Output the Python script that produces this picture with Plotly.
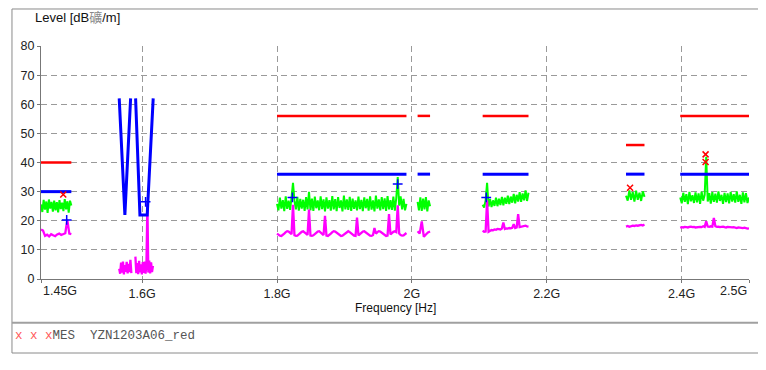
import numpy as np
import plotly.graph_objects as go

# ---------------- data ----------------
x_tick_vals = [1.45, 1.6, 1.8, 2.0, 2.2, 2.4, 2.5]
x_tick_text = ["1.45G", "1.6G", "1.8G", "2G", "2.2G", "2.4G", "2.5G"]
y_tick_vals = [0, 10, 20, 30, 40, 50, 60, 70, 80]

# peak limit (red), frequencies in GHz, level dBuV/m
peak_limit_f = [1.45, 1.495, None, 1.80, 1.992, None, 2.0085, 2.027, None,
                2.105, 2.173, None, 2.3176, 2.345, None, 2.398, 2.50]
peak_limit_v = [40, 40, None, 56, 56, None, 56, 56, None,
                56, 56, None, 46, 46, None, 56, 56]

# average limit (blue)
avg_limit_f = [1.45, 1.495, None,
               1.566, 1.5744, 1.5829, None, 1.5903, 1.5967, 1.6075, 1.6164, None,
               1.80, 1.992, None, 2.0085, 2.027, None, 2.105, 2.173, None,
               2.3176, 2.345, None, 2.398, 2.50]
avg_limit_v = [30, 30, None,
               62, 22, 62, None, 62, 22, 22, 62, None,
               36, 36, None, 36, 36, None, 36, 36, None,
               36, 36, None, 36, 36]

# sweep segments (start GHz, stop GHz)
seg_a = (1.45, 1.495)
seg_b1 = (1.566, 1.584)
seg_b2 = (1.590, 1.616)
seg_c = (1.80, 1.992)
seg_d = (2.0085, 2.027)
seg_e = (2.105, 2.173)
seg_f = (2.3176, 2.345)
seg_g = (2.398, 2.50)

# peak trace (green)
peak_a = [25.6, 23.0, 27.2, 23.8, 26.6, 22.7, 27.3, 24.2, 26.5, 23.1,
          26.9, 23.6, 26.4, 22.9, 27.1, 24.0, 26.2, 23.3, 27.4, 23.9,
          26.7, 22.8, 26.9, 25.2]
peak_c = [25.8, 23.6, 27.9, 24.2, 27.1, 23.3, 28.4, 24.1, 26.9, 23.7,
          28.0, 33.0, 26.8, 23.9, 28.2, 23.5, 27.5, 24.2, 27.2, 23.4,
          28.1, 23.9, 29.9, 23.6, 27.6, 23.4, 28.3, 24.3, 27.0, 23.6,
          28.4, 24.0, 27.3, 23.2, 28.0, 24.2, 27.1, 23.5, 28.5, 23.9,
          27.4, 23.3, 28.1, 24.4, 27.0, 23.2, 28.6, 23.9, 27.3, 23.7,
          28.2, 23.4, 27.6, 24.1, 27.0, 23.6, 28.3, 24.0, 27.2, 23.3,
          28.0, 24.3, 27.5, 23.5, 28.4, 23.8, 27.0, 23.2, 28.6, 24.2,
          27.3, 23.6, 28.1, 24.0, 27.7, 23.4, 28.5, 23.9, 27.1, 23.7,
          28.3, 23.5, 27.8, 35.0, 25.2, 28.4, 23.9, 27.5, 23.6, 25.8]
peak_d = [26.5, 23.6, 28.0, 23.4, 27.6, 23.9, 28.1, 23.2, 27.0, 25.0]
peak_e = [25.5, 24.5, 27.0, 33.0, 24.9, 27.5, 24.7, 27.0, 25.1, 27.9,
          25.0, 27.6, 25.4, 28.2, 25.3, 27.9, 25.8, 28.6, 25.7, 28.3,
          26.2, 29.2, 26.0, 28.9, 26.6, 29.8, 26.5, 29.4, 27.0, 30.4,
          26.8, 29.6]
peak_f = [28.6, 26.9, 30.4, 27.2, 29.9, 26.6, 30.3, 27.2, 29.6, 26.8,
          30.1, 28.2]
peak_g = [28.0, 26.0, 29.6, 26.5, 29.1, 25.7, 29.9, 26.7, 28.8, 26.1,
          29.7, 26.3, 29.4, 25.8, 30.0, 26.9, 28.9, 42.0, 26.6, 29.5,
          25.9, 29.8, 26.5, 29.3, 26.2, 30.1, 26.8, 28.9, 25.8, 29.6,
          26.4, 29.4, 26.0, 29.9, 26.6, 29.1, 26.2, 30.1, 26.5, 28.9,
          25.8, 29.7, 26.3, 29.5, 26.1, 28.0]

# average trace (magenta)
avg_a = [17.0, 16.6, 14.8, 15.2, 14.6, 15.4, 15.0, 14.7, 15.3, 15.6,
         15.1, 15.5, 15.7, 20.3, 15.6, 15.4]
avg_b1 = [3.5, 1.8, 5.6, 2.2, 6.0, 1.6, 4.8, 2.5, 5.9, 1.9, 5.2, 2.4, 6.6, 2.0]
avg_b2 = [7.7, 2.0, 5.5, 1.7, 6.2, 2.3, 5.0, 1.6, 5.8, 2.1,
          6.0, 1.8, 5.4, 26.0, 2.2, 6.3, 1.9, 5.7, 2.4, 4.5]
avg_c = [15.6, 15.2, 14.9, 14.8, 15.1, 15.6, 16.1, 16.4, 16.3, 15.9, 15.4,
         25.5,
         15.0, 14.8, 14.9, 15.3, 15.8, 16.2, 16.4, 16.1, 15.6, 15.1,
         23.8,
         14.9, 14.8, 15.0, 15.5, 16.0, 16.3, 16.4, 16.0, 15.5, 15.1,
         21.7,
         14.9, 14.8, 15.1, 15.6, 16.1, 16.4, 16.3, 15.9, 15.4, 15.0,
         14.8, 14.9, 15.3, 15.8, 16.2, 16.4, 16.1, 15.6, 15.1, 14.9, 14.8,
         21.1,
         15.0, 15.5, 16.0, 16.3, 16.4, 16.0, 15.5, 15.1, 14.9, 14.8, 15.1,
         17.5,
         15.6, 16.1, 16.4, 16.3, 15.9, 15.4, 15.0, 14.8, 14.9,
         22.3,
         15.3, 15.8, 16.2, 16.4, 16.1,
         25.3,
         15.6, 15.1, 14.9, 15.0, 15.4, 15.8]
avg_d = [16.4, 15.6, 19.8, 14.5, 15.3, 16.0, 16.3]
avg_e = [16.6, 16.2, 16.3, 27.0, 16.2, 16.5, 16.8, 16.7, 17.0, 16.9,
         17.2, 17.1, 17.0, 17.3, 19.4, 17.2, 17.4, 17.3, 17.5, 17.4,
         17.6, 18.8, 17.5, 17.7, 22.3, 17.8, 17.9, 18.0, 18.2, 18.3,
         18.1, 18.0]
avg_f = [18.0, 18.2, 17.9, 18.1, 18.3, 18.2, 18.4, 18.3, 18.5, 18.6, 18.4, 18.7]
avg_g = [17.6, 17.8, 17.7, 17.9, 17.8, 17.7, 17.9, 18.0, 17.8, 17.9,
         17.7, 17.8, 18.0, 17.9, 17.8, 18.1, 17.9, 19.8, 18.0, 17.9,
         18.1, 18.0, 21.0, 18.1, 17.9, 18.0, 17.8, 17.9, 18.0, 17.8,
         17.7, 17.9, 17.8, 17.6, 17.7, 17.8, 17.6, 17.5, 17.7, 17.6,
         17.4, 17.5, 17.6, 17.4, 17.3, 17.4]

# final measurement markers
mes_f = [1.483, 2.3236, 2.4356, 2.4356]
mes_v = [29.0, 31.3, 42.8, 40.2]
avg_mark_f = [1.4881, 1.6051, 1.8229, 1.979, 2.1103]
avg_mark_v = [20.3, 26.5, 28.0, 32.6, 28.0]


def build(segments):
    xs, ys = [], []
    for (f0, f1), vals in segments:
        xs += list(np.linspace(f0, f1, len(vals))) + [None]
        ys += list(vals) + [None]
    return xs, ys


peak_x, peak_y = build([(seg_a, peak_a), (seg_c, peak_c), (seg_d, peak_d),
                        (seg_e, peak_e), (seg_f, peak_f), (seg_g, peak_g)])
avg_x, avg_y = build([(seg_a, avg_a), (seg_b1, avg_b1), (seg_b2, avg_b2),
                      (seg_c, avg_c), (seg_d, avg_d), (seg_e, avg_e),
                      (seg_f, avg_f), (seg_g, avg_g)])

# ---------------- figure ----------------
fig = go.Figure()
fig.add_trace(go.Scatter(x=peak_x, y=peak_y, mode="lines",
                         line=dict(color="#00ff00", width=2), connectgaps=False))
fig.add_trace(go.Scatter(x=avg_x, y=avg_y, mode="lines",
                         line=dict(color="#ff00ff", width=2.3), connectgaps=False))
fig.add_trace(go.Scatter(x=avg_limit_f, y=avg_limit_v, mode="lines",
                         line=dict(color="#0000ff", width=3), connectgaps=False))
fig.add_trace(go.Scatter(x=peak_limit_f, y=peak_limit_v, mode="lines",
                         line=dict(color="#ff0000", width=2.5), connectgaps=False))
fig.add_trace(go.Scatter(x=avg_mark_f, y=avg_mark_v, mode="markers",
                         marker=dict(symbol="cross-thin", size=7,
                                     line=dict(color="#0000ff", width=1.5))))
fig.add_trace(go.Scatter(x=mes_f, y=mes_v, mode="markers",
                         marker=dict(symbol="x-thin", size=6,
                                     line=dict(color="#ff0000", width=1.5))))

grid = dict(showgrid=True, gridcolor="#9a9a9a", gridwidth=1, griddash="6px,4px",
            zeroline=False, showline=True, linecolor="#777777", linewidth=1,
            ticks="outside", ticklen=3, tickcolor="#777777",
            tickfont=dict(family="Liberation Sans, Arial", size=12.5, color="#222222"))

fig.update_xaxes(range=[1.45, 2.5], tickvals=x_tick_vals,
                 ticktext=[""] + x_tick_text[1:-1] + [""], **grid)
fig.update_yaxes(range=[0, 80], tickvals=y_tick_vals, **grid)

unit_char = b"\xb5V".decode("gbk")

annotations = [
    dict(x=x_tick_vals[0], y=-0.0515, xref="x", yref="paper", text=x_tick_text[0],
         xanchor="left", yanchor="middle", showarrow=False,
         font=dict(family="Liberation Sans, Arial", size=12.5, color="#222222")),
    dict(x=x_tick_vals[-1], y=-0.0515, xref="x", yref="paper", text=x_tick_text[-1],
         xanchor="right", yanchor="middle", showarrow=False,
         font=dict(family="Liberation Sans, Arial", size=12.5, color="#222222")),
    dict(x=0.5, y=-0.1245, xref="paper", yref="paper", text="Frequency [Hz]",
         xanchor="center", yanchor="middle", showarrow=False,
         font=dict(family="Liberation Sans, Arial", size=12, color="#111111")),
    dict(x=-0.0113, y=1.1202, xref="paper", yref="paper",
         text="Level [dB<span style='color:#888888'>" + unit_char + "</span>/m]",
         xanchor="left", yanchor="middle", showarrow=False,
         font=dict(family="Liberation Sans, Arial, Noto Sans CJK SC", size=13, color="#111111")),
    dict(x=-0.039, y=-0.2446, xref="paper", yref="paper",
         text="<span style='color:#ff5a5a'>x x x</span>MES\u00a0\u00a0YZN1203A06_red",
         xanchor="left", yanchor="middle", showarrow=False,
         font=dict(family="Liberation Mono, Courier New, monospace", size=12.5, color="#555555")),
]

# the page body adds an 8px offset; the figure is sized so the plot lands
# where it is in the reference
shapes = [
    dict(type="rect", xref="paper", yref="paper", x0=-0.041, x1=1.0141,
         y0=-0.3176, y1=1.1588, line=dict(color="#8a8a8a", width=1)),
    dict(type="line", xref="paper", yref="paper", x0=-0.041, x1=1.0141,
         y0=-0.1876, y1=-0.1876, line=dict(color="#a0a0a0", width=2)),
]

fig.update_layout(width=758, height=362,
                  margin=dict(l=33, r=17, t=38, b=91),
                  paper_bgcolor="white", plot_bgcolor="white",
                  showlegend=False, annotations=annotations, shapes=shapes,
                  font=dict(family="Liberation Sans, Arial"))

fig.write_html("out.html")
